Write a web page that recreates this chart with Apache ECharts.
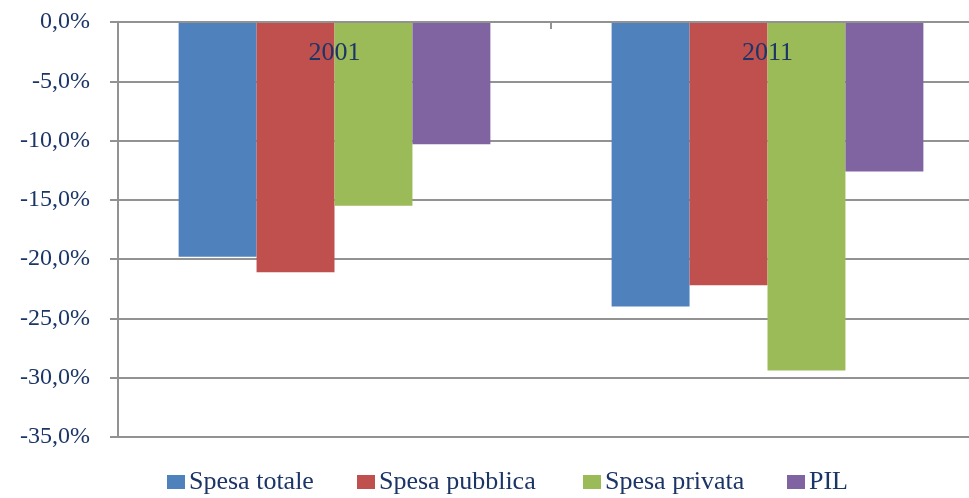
<!DOCTYPE html>
<html>
<head>
<meta charset="utf-8">
<script src="https://cdn.jsdelivr.net/npm/echarts@6/dist/echarts.min.js"></script>
<style>
  html, body { margin: 0; padding: 0; background: #fff; }
  #chart { width: 969px; height: 498px; }
</style>
</head>
<body>
<div id="chart"></div>
<script>
// dati
const anni = ['2001', '2011']
const spesaTotale = [-19.8, -24.0]
const spesaPubblica = [-21.1, -22.2]
const spesaPrivata = [-15.5, -29.4]
const pil = [-10.3, -12.6]

const serie = [
  { name: 'Spesa totale', data: spesaTotale, color: '#4F81BD' },
  { name: 'Spesa pubblica', data: spesaPubblica, color: '#C0504D' },
  { name: 'Spesa privata', data: spesaPrivata, color: '#9BBB59' },
  { name: 'PIL', data: pil, color: '#8064A2' }
]
// posizione orizzontale di ogni voce della legenda
const legendaLeft = [167, 357, 583, 787]

const textColor = '#1b3567'
const font = 'Liberation Serif'
const grigio = '#929292'

const chart = echarts.init(document.getElementById('chart'))

chart.setOption({
  animation: false,
  grid: { left: 118, right: -15, top: 22, bottom: 61, outerBoundsMode: 'none' },
  legend: serie.map((s, i) => ({
    bottom: 3,
    left: legendaLeft[i],
    icon: 'rect',
    itemWidth: 18,
    itemHeight: 14,
    padding: 0,
    textStyle: { fontFamily: font, fontSize: 26, color: textColor, padding: [0, 0, 0, -1] },
    data: [s.name]
  })),
  xAxis: {
    type: 'category',
    position: 'top',
    z: 10,
    data: anni,
    axisLine: { lineStyle: { color: grigio, width: 2 } },
    axisTick: { show: true, inside: true, length: 7, lineStyle: { color: grigio, width: 2 } },
    axisLabel: { inside: true, margin: 18, fontFamily: font, fontSize: 26, color: textColor }
  },
  yAxis: {
    type: 'value',
    min: -35,
    max: 0,
    interval: 5,
    axisLine: { show: true, lineStyle: { color: grigio, width: 2 } },
    axisTick: { show: true, length: 8, lineStyle: { color: grigio, width: 2 } },
    splitLine: { lineStyle: { color: grigio, width: 2 } },
    axisLabel: {
      margin: 28,
      fontFamily: font,
      fontSize: 24,
      color: textColor,
      formatter: v => v.toFixed(1).replace('.', ',') + '%'
    }
  },
  series: serie.map(s => ({
    name: s.name,
    type: 'bar',
    data: s.data,
    barGap: '0%',
    barCategoryGap: '28%',
    itemStyle: { color: s.color }
  }))
})
</script>
</body>
</html>
